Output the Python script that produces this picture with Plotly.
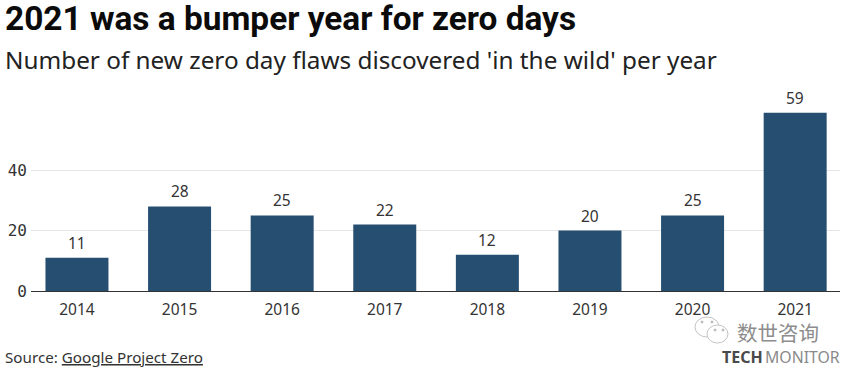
import plotly.graph_objects as go

years = ["2014", "2015", "2016", "2017", "2018", "2019", "2020", "2021"]
flaws = [11, 28, 25, 22, 12, 20, 25, 59]
y_ticks = [0, 20, 40]
title = "2021 was a bumper year for zero days"
subtitle = "Number of new zero day flaws discovered 'in the wild' per year"

W, H = 847, 369
L, R, T, B = 31, 840, 100, 291
SANS = "Noto Sans, Open Sans, sans-serif"
MONO = "DejaVu Sans Mono, monospace"

fig = go.Figure(go.Bar(
    x=years, y=flaws, width=0.614, marker=dict(color="#264e70", line=dict(width=0)),
    hoverinfo="skip",
))

def note(x, y, text, size, color="#111111", family=SANS, anchor="left", weight=None):
    fig.add_annotation(xref="paper", yref="paper", x=(x - L) / (R - L), y=(B - y) / (B - T),
                       text=f"<b>{text}</b>" if weight else text, showarrow=False,
                       xanchor=anchor, yanchor="middle", align=anchor, borderpad=0,
                       font=dict(family=family, size=size, color=color))

# On a category axis, annotations take the category's position index.
for i, v in enumerate(flaws):
    fig.add_annotation(xref="x", yref="y", x=i, y=v, text=str(v), showarrow=False,
                       yshift=15, yanchor="middle",
                       font=dict(family=SANS, size=15.5, color="#333333"))

note(4, 18.5, title, 33.4, "#0b0b0b", family="Roboto, sans-serif", weight=True)
note(4, 59, subtitle, 24.3, "#222222")
note(4, 357, "Source: <u>Google Project Zero</u>", 15.2, "#333333")
note(736, 332, "数世咨询", 20.5, "#8d8d8d", family="Noto Sans CJK SC")
note(721, 357, "<b>TECH</b>", 16, "#4a4a4a")
note(764, 357, "MONITOR", 15.8, "#8a8a8a")

# WeChat-style watermark icon
def ellipse(cx, cy, rx, ry, line="#c4c4c4", fill="rgba(255,255,255,0.9)"):
    fig.add_shape(type="circle", xref="paper", yref="paper",
                  x0=(cx - rx - L) / (R - L), x1=(cx + rx - L) / (R - L),
                  y0=(B - cy - ry) / (B - T), y1=(B - cy + ry) / (B - T),
                  line=dict(color=line, width=1), fillcolor=fill)

ellipse(707, 327, 12, 10)
ellipse(717.5, 334, 10.5, 9)
for ex, ey in [(702, 322), (712, 322), (715, 330), (723, 330)]:
    ellipse(ex, ey, 1, 1, line="#b8b8b8", fill="#b8b8b8")

fig.update_layout(
    width=W, height=H, margin=dict(l=L, r=W - R, t=T, b=H - B, autoexpand=False),
    paper_bgcolor="white", plot_bgcolor="white", showlegend=False,
    xaxis=dict(type="category", range=[-0.448, 7.437], showgrid=False, ticks="", showline=True,
               linecolor="#333333", linewidth=1, ticklabelstandoff=4,
               tickfont=dict(family=SANS, size=15.5, color="#333333"), ticklen=0),
    yaxis=dict(range=[0, 63.2], tickvals=y_ticks, showgrid=True, gridcolor="#e6e6e6", gridwidth=1,
               zeroline=False, showline=False, ticks="", ticklabelstandoff=3,
               tickfont=dict(family=MONO, size=16, color="#333333")),
)
fig.write_html("out.html", post_script="document.body.style.margin='0';",
               config=dict(displayModeBar=False))
